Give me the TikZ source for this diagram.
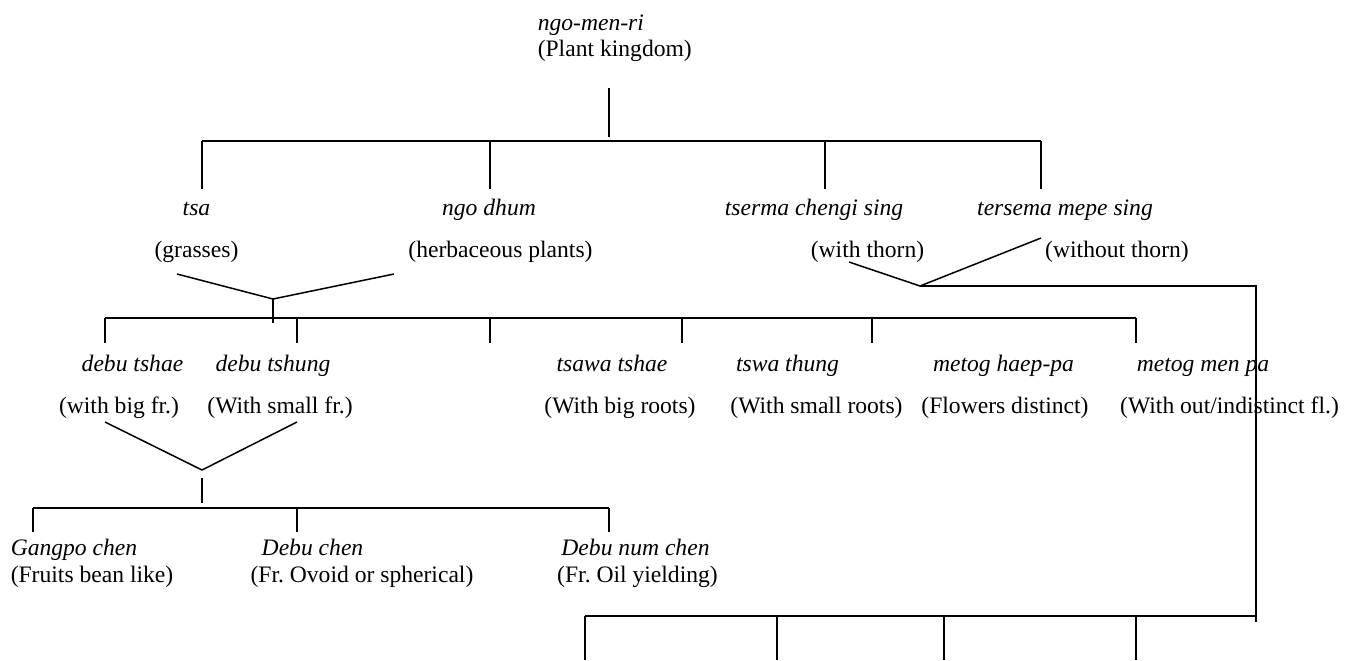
\documentclass[tikz,border=0pt]{standalone}
\usepackage{fontspec}
\setmainfont{Liberation Serif}
\frenchspacing
\begin{document}
\begin{tikzpicture}[x=0.5pt,y=-0.5pt,line width=0.75pt,
  every node/.style={inner sep=0pt,font=\fontsize{11.8}{14}\selectfont,text height=0.69em,text depth=0.2em},
  nm/.style={font=\fontsize{11.8}{14}\selectfont\itshape},
  gl/.style={}]
\useasboundingbox (0,0) rectangle (1352,660);
% texts
\node[nm,anchor=west] (root) at (537,26) {ngo-men-ri};
\node[gl,anchor=west] (rootg) at (537,52) {(Plant kingdom)};
\node[nm] (tsa) at (196.5,211) {tsa};
\node[gl] (tsag) at (196.5,253) {(grasses)};
\node[nm] (ngo) at (489,211) {ngo dhum};
\node[gl] (ngog) at (500.5,253) {(herbaceous plants)};
\node[nm] (tserma) at (814,211) {tserma chengi sing};
\node[gl] (tsermag) at (867.5,253) {(with thorn)};
\node[nm] (tersema) at (1065,211) {tersema mepe sing};
\node[gl] (tersemag) at (1117,253) {(without thorn)};
\node[nm] (dtshae) at (132.5,367) {debu tshae};
\node[gl] (dtshaeg) at (119,409) {(with big fr.)};
\node[nm] (dtshung) at (273,367) {debu tshung};
\node[gl] (dtshungg) at (280,409) {(With small fr.)};
\node[nm] (tsawa) at (612,367) {tsawa tshae};
\node[gl] (tsawag) at (620,409) {(With big roots)};
\node[nm] (tswa) at (787.5,367) {tswa thung};
\node[gl] (tswag) at (816.5,409) {(With small roots)};
\node[nm] (haep) at (1003.5,367) {metog haep-pa};
\node[gl] (haepg) at (1005,409) {(Flowers distinct)};
\node[nm] (menpa) at (1203,367) {metog men pa};
\node[gl] (menpag) at (1229.5,409) {(With out/indistinct fl.)};
\node[nm,anchor=west] (gangpo) at (10,551) {Gangpo chen};
\node[gl,anchor=west] (gangpog) at (10,578) {(Fruits bean like)};
\node[nm] (dchen) at (312.5,551) {Debu chen};
\node[gl] (dcheng) at (362,578) {(Fr. Ovoid or spherical)};
\node[nm] (dnum) at (635.5,551) {Debu num chen};
\node[gl] (dnumg) at (637.5,578) {(Fr. Oil yielding)};
% coordinates
\coordinate (r0) at (609,88);
\coordinate (r1) at (609,137);
\coordinate (h1l) at (202,141);
\coordinate (h1r) at (1041,141);
\coordinate (v1a) at (177,274);
\coordinate (v1m) at (273,299);
\coordinate (v1b) at (394,274);
\coordinate (v1d) at (273,323);
\coordinate (h2l) at (105,318);
\coordinate (h2r) at (1136,318);
\coordinate (v2a) at (849,262);
\coordinate (v2m) at (920,286);
\coordinate (v2b) at (1041,238);
\coordinate (c2) at (1256,286);
\coordinate (c2d) at (1256,622);
\coordinate (h4l) at (585,616);
\coordinate (h4r) at (1256,616);
\coordinate (v3a) at (105,422);
\coordinate (v3m) at (202,470);
\coordinate (v3b) at (297,422);
\coordinate (v3t) at (202,478);
\coordinate (v3d) at (202,503);
\coordinate (h3l) at (33,508);
\coordinate (h3r) at (609,508);
% level 1
\draw (r0) -- (r1);
\draw (h1l) -- (h1r);
\foreach \x in {202,490,825,1041} \draw (\x,141) -- (\x,189);
% level 2 (herbs)
\draw (v1a) -- (v1m) -- (v1b);
\draw (v1m) -- (v1d);
\draw (h2l) -- (h2r);
\foreach \x in {105,297,490,682,872,1136} \draw (\x,318) -- (\x,343);
% shrubs branch
\draw (v2a) -- (v2m) -- (v2b);
\draw (v2m) -- (c2) -- (c2d);
\draw (h4l) -- (h4r);
\foreach \x in {585,777,944,1136} \draw (\x,616) -- (\x,660);
% level 3
\draw (v3a) -- (v3m) -- (v3b);
\draw (v3t) -- (v3d);
\draw (h3l) -- (h3r);
\foreach \x in {33,297,609} \draw (\x,508) -- (\x,532);
\end{tikzpicture}
\end{document}
